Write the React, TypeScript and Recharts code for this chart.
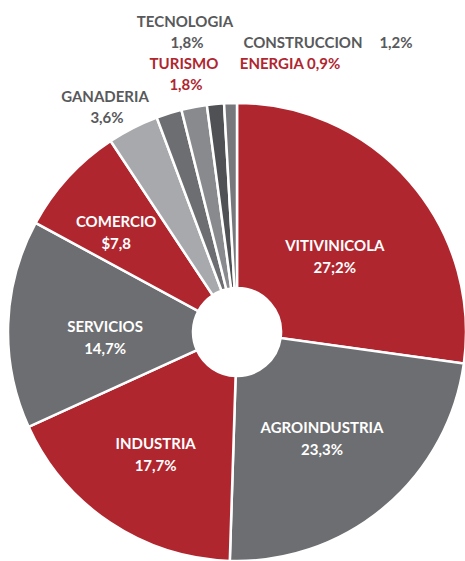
import { Cell, Pie, PieChart } from 'recharts';

const sectors = [
  'VITIVINICOLA',
  'AGROINDUSTRIA',
  'INDUSTRIA',
  'SERVICIOS',
  'COMERCIO',
  'GANADERIA',
  'TECNOLOGIA',
  'TURISMO',
  'CONSTRUCCION',
  'ENERGIA',
];
const shares = [27.2, 23.3, 17.7, 14.7, 7.8, 3.6, 1.8, 1.8, 1.2, 0.9];
const valueLabels = ['27;2%', '23,3%', '17,7%', '14,7%', '$7,8', '3,6%', '1,8%', '1,8%', '1,2%', '0,9%'];

const RED = '#B0262F';
const GREY = '#6D6E71';
const TEXT_GREY = '#58595B';
const COLORS = [RED, GREY, RED, GREY, RED, '#A7A9AC', '#6D6E71', '#898A8D', '#505154', '#77787B'];

// radius + small nudge for the labels drawn inside the big slices
const INNER_LABEL_R = [123, 135, 145, 132, 157];
const INNER_NUDGE = [
  [5, 5],
  [-2, 3],
  [-1, 1],
  [0, 10],
  [-5, 6],
];

// small slices are labelled above the pie
const OUTER_LABELS: Record<number, { x: number; y: number; color: string; inline?: boolean; valueX?: number }> = {
  5: { x: 105, y: 96, color: TEXT_GREY },
  6: { x: 185, y: 21, color: TEXT_GREY },
  7: { x: 184, y: 63, color: RED },
  8: { x: 303, y: 42, color: TEXT_GREY, valueX: 396 },
  9: { x: 290, y: 63, color: RED, inline: true },
};

const FONT = 'Lato, "Open Sans", sans-serif';

const data = sectors.map((name, i) => ({ name, value: shares[i], label: valueLabels[i] }));

const RADIAN = Math.PI / 180;

function renderLabel(props: any) {
  const { cx, cy, midAngle, index } = props;
  const name = sectors[index];
  const val = valueLabels[index];
  const common = {
    fontFamily: FONT,
    fontWeight: 700,
    fontSize: 15,
    textAnchor: 'middle' as const,
    dominantBaseline: 'central' as const,
  };

  if (index < INNER_LABEL_R.length) {
    const r = INNER_LABEL_R[index];
    const [dx, dy] = INNER_NUDGE[index];
    const x = cx + r * Math.cos(-midAngle * RADIAN) + dx;
    const y = cy + r * Math.sin(-midAngle * RADIAN) + dy;
    return (
      <g key={`l-${index}`}>
        <text x={x} y={y - 11} fill="#fff" {...common}>
          {name}
        </text>
        <text x={x} y={y + 11} fill="#fff" {...common}>
          {val}
        </text>
      </g>
    );
  }

  const o = OUTER_LABELS[index];
  if (o.inline) {
    return (
      <text key={`l-${index}`} x={o.x} y={o.y} fill={o.color} {...common}>
        {`${name} ${val}`}
      </text>
    );
  }
  if (o.valueX) {
    return (
      <g key={`l-${index}`}>
        <text x={o.x} y={o.y} fill={o.color} {...common}>
          {name}
        </text>
        <text x={o.valueX} y={o.y} fill={o.color} {...common}>
          {val}
        </text>
      </g>
    );
  }
  return (
    <g key={`l-${index}`}>
      <text x={o.x} y={o.y} fill={o.color} {...common}>
        {name}
      </text>
      <text x={o.x + 2} y={o.y + 21} fill={o.color} {...common}>
        {val}
      </text>
    </g>
  );
}

export default function App() {
  return (
    <div style={{ position: 'absolute', left: 0, top: 0, width: 465, height: 561, background: '#fff' }}>
      <PieChart width={465} height={561} margin={{ top: 0, right: 0, bottom: 0, left: 0 }}>
        <Pie
          data={data}
          dataKey="value"
          nameKey="name"
          cx={237}
          cy={332}
          innerRadius={44}
          outerRadius={229}
          startAngle={90}
          endAngle={-270}
          stroke="#fff"
          strokeWidth={2.5}
          label={renderLabel}
          labelLine={false}
          isAnimationActive={false}
        >
          {data.map((_, i) => (
            <Cell key={i} fill={COLORS[i]} />
          ))}
        </Pie>
      </PieChart>
    </div>
  );
}
